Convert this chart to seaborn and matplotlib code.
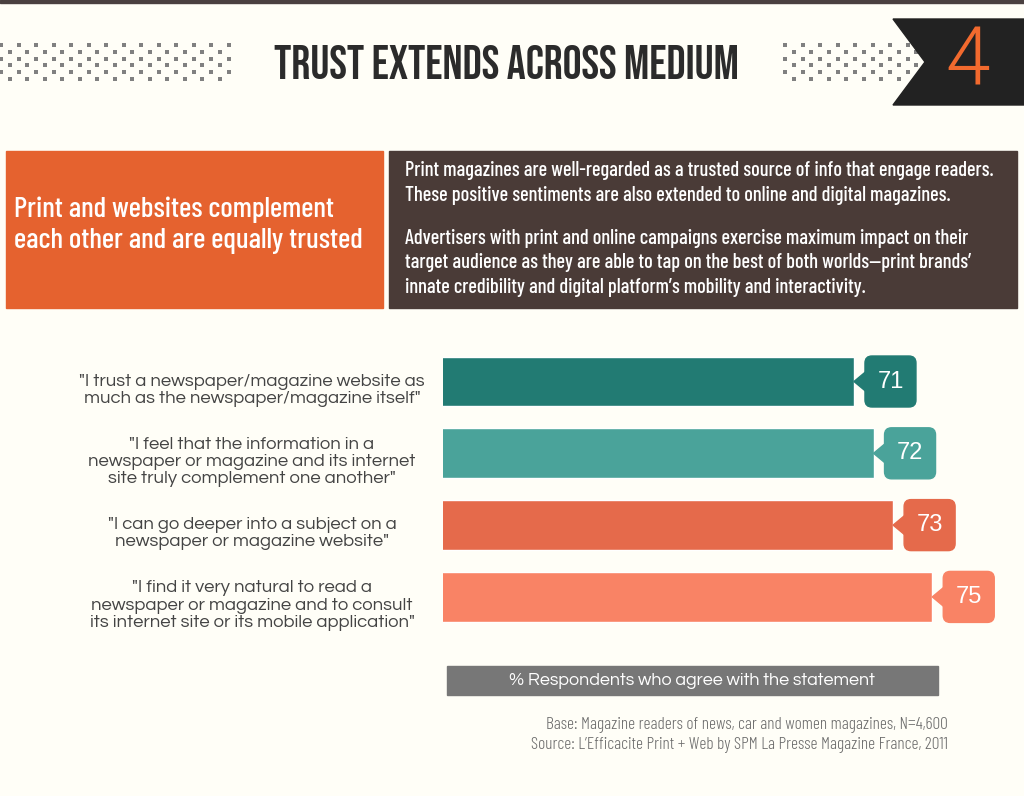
import matplotlib
matplotlib.use("Agg")
import matplotlib.pyplot as plt
import matplotlib.transforms as mtransforms
from matplotlib.patches import Rectangle, Polygon, FancyBboxPatch
import numpy as np
import pandas as pd
import seaborn as sns

# chart data
statements = [
    '"I trust a newspaper/magazine website as\nmuch as the newspaper/magazine itself"',
    '"I feel that the information in a\nnewspaper or magazine and its internet\nsite truly complement one another"',
    '"I can go deeper into a subject on a\nnewspaper or magazine website"',
    '"I find it very natural to read a\nnewspaper or magazine and to consult\nits internet site or its mobile application"',
]
agree_pct = [71, 72, 73, 75]
bar_colors = ["#227b73", "#4aa39a", "#e56a4b", "#f98365"]

title = "TRUST EXTENDS ACROSS MEDIUM"
page_no = "4"
headline = "Print and websites complement\neach other and are equally trusted"
para1 = ("Print magazines are well-regarded as a trusted source of info that engage readers.\n"
         "These positive sentiments are also extended to online and digital magazines.")
para2 = ("Advertisers with print and online campaigns exercise maximum impact on their\n"
         "target audience as they are able to tap on the best of both worlds\u2014print brands\u2019\n"
         "innate credibility and digital platform\u2019s mobility and interactivity.")
axis_note = "% Respondents who agree with the statement"
footnote = ("Base: Magazine readers of news, car and women magazines, N=4,600\n"
            "Source: L\u2019Efficacite Print + Web by SPM La Presse Magazine France, 2011")

W, H = 1024, 796
BG = "#fffef7"
COND = ["Barlow Condensed", "DejaVu Sans"]
HEAD = ["Bebas Neue", "Oswald", "League Gothic", "Barlow Condensed", "DejaVu Sans"]
GOTHIC = ["URW Gothic", "Questrial", "Didact Gothic", "Lato", "DejaVu Sans"]

sns.set_theme(style="white")
plt.rcParams["font.family"] = ["Lato", "DejaVu Sans"]

fig = plt.figure(figsize=(W / 100, H / 100), dpi=100, facecolor=BG)

# decoration layer, pixel coordinates
deco = fig.add_axes([0, 0, 1, 1], zorder=0)
deco.set_xlim(0, W)
deco.set_ylim(H, 0)
deco.axis("off")

deco.add_patch(Rectangle((0, 0), W, 2.5, color="#4a4040"))

# dotted bands next to the title
rows = 45 + 6.8 * np.arange(6)
for x_lo, x_hi in [(1, 230), (785, 920)]:
    xs, ys = [], []
    for k, y in enumerate(rows):
        for j, x in enumerate(np.arange(x_lo, x_hi, 8.75)):
            if (j + k) % 2 == 0:
                xs.append(x)
                ys.append(y)
    deco.scatter(xs, ys, marker="s", s=7, color="#808080", linewidths=0)

deco.add_patch(Polygon([(893, 19), (W, 19), (W, 105), (893, 105), (925, 62)],
                       closed=True, color="#222222"))
deco.text(968, 63, page_no, ha="center", va="center", fontsize=58,
          color="#f26a2e", fontweight=300, family=["Roboto", "DejaVu Sans"])
deco.text(506, 62, title, ha="center", va="center", fontsize=34,
          fontweight="bold", color="#2b2b2b", family=HEAD)

deco.add_patch(Rectangle((6, 151), 377, 157, color="#e5622f"))
deco.text(14, 225, headline, ha="left", va="center", fontsize=21,
          color="white", family=COND, fontweight=500, linespacing=1.27)

deco.add_patch(Rectangle((389, 151), 628, 157, color="#4a3b37"))
deco.text(405, 183, para1, ha="left", va="center", fontsize=14.7,
          color="white", family=COND, fontweight=500, linespacing=1.38)
deco.text(405, 263, para2, ha="left", va="center", fontsize=14.7,
          color="white", family=COND, fontweight=500, linespacing=1.38)

deco.add_patch(Rectangle((447, 666), 491, 29, color="#777777"))
deco.text(692, 681, axis_note, ha="center", va="center", fontsize=12.9,
          color="white", family=GOTHIC)
deco.text(948, 735, footnote, ha="right", va="center", fontsize=12.5,
          color="#6b6b6b", family=COND, fontweight=300, linespacing=1.35)

# bar chart
px_per_unit = 19.57
ax = fig.add_axes([443 / W, 1 - 640 / H, 571 / W, 300 / H], zorder=2)
ax.patch.set_alpha(0)
df = pd.DataFrame({"statement": statements, "agree": agree_pct})
sns.barplot(data=df, x="agree", y="statement", hue="statement",
            palette=bar_colors, legend=False, width=0.694, saturation=1, ax=ax)
ax.set_xlim(50, 50 + 571 / px_per_unit)
ax.set_ylim(3.6, -0.578)
sns.despine(ax=ax, left=True, bottom=True)
ax.set_xticks([])
ax.set_xlabel("")
ax.set_ylabel("")
ax.tick_params(axis="y", length=0, pad=137.5, labelsize=13.3, labelcolor="#444444")
nudge = mtransforms.ScaledTranslation(0, -0.06, fig.dpi_scale_trans)
for lbl in ax.get_yticklabels():
    lbl.set_ha("center")
    lbl.set_multialignment("center")
    lbl.set_family(GOTHIC)
    lbl.set_linespacing(1.1)
    lbl.set_transform(lbl.get_transform() + nudge)

# value callouts: rounded box with a pointer at the bar end
for i, (v, c) in enumerate(zip(agree_pct, bar_colors)):
    tr = mtransforms.ScaledTranslation(v, i, ax.transData)
    ax.add_patch(Polygon([(0, 0), (12, 10), (12, -10)], closed=True,
                         color=c, transform=tr, clip_on=False))
    ax.add_patch(FancyBboxPatch((11, -25.5), 51, 51,
                                boxstyle="round,pad=0,rounding_size=7",
                                color=c, transform=tr, clip_on=False))
    ax.text(36.5, 0, str(v), transform=tr, ha="center", va="center",
            fontsize=17, color="white", family="Liberation Sans")

fig.savefig("out.png", dpi=100, facecolor=BG)
